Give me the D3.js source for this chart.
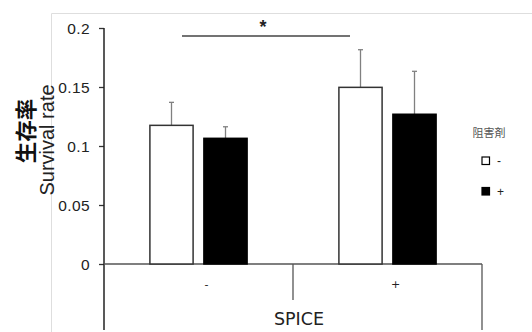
<!DOCTYPE html>
<html>
<head>
<meta charset="utf-8">
<script src="https://cdn.jsdelivr.net/npm/d3@7"></script>
<style>
  body { margin: 0; background: #fff; }
  text { font-family: "Liberation Sans", Arial, sans-serif; }
</style>
</head>
<body>
<script>
const width = 532;
const height = 332;

// data
const spice = ["-", "+"];
const inhibitor = ["-", "+"];
const meanInhMinus = [0.1175, 0.1497];
const meanInhPlus = [0.1065, 0.1269];
const errInhMinus = [0.0195, 0.0319];
const errInhPlus = [0.0098, 0.0364];
const yTicks = [0, 0.05, 0.1, 0.15, 0.2];

const rows = [];
spice.forEach((s, i) => {
  rows.push({ spice: s, inh: "-", mean: meanInhMinus[i], err: errInhMinus[i] });
  rows.push({ spice: s, inh: "+", mean: meanInhPlus[i], err: errInhPlus[i] });
});

const svg = d3.select("body").append("svg")
  .attr("width", width)
  .attr("height", height);

// faint frame of the plot area
svg.append("path")
  .attr("d", "M51.5,332V13.5H532")
  .attr("fill", "none")
  .attr("stroke", "#dedede")
  .attr("stroke-width", 1);

const y = d3.scaleLinear().domain([0, 0.2]).range([264, 28]);
const x = d3.scaleBand().domain(spice).range([104, 482]);
const xSub = d3.scaleBand().domain(inhibitor)
  .range([0, x.bandwidth()])
  .paddingInner(0.2)
  .paddingOuter(0.85);

// y axis
const yAxis = svg.append("g")
  .attr("transform", "translate(104,0)")
  .call(d3.axisLeft(y).tickValues(yTicks).tickSize(5).tickSizeOuter(0)
    .tickFormat(d => d === 0 ? "0" : String(d)));
yAxis.select(".domain").remove();
yAxis.selectAll(".tick line").attr("stroke", "#333").attr("stroke-width", 1.3);
yAxis.selectAll(".tick text")
  .attr("x", -14)
  .attr("dy", "0.36em")
  .attr("fill", "#222")
  .style("font-size", "15.5px")
  .style("letter-spacing", "0.4px")
  .style("font-family", "'Liberation Sans', Arial, sans-serif");

svg.append("line")
  .attr("x1", 104).attr("x2", 104)
  .attr("y1", 28).attr("y2", 330)
  .attr("stroke", "#222").attr("stroke-width", 1.5);

// x axis line and category separators
svg.append("line")
  .attr("x1", 104).attr("x2", 482)
  .attr("y1", y(0)).attr("y2", y(0))
  .attr("stroke", "#555").attr("stroke-width", 1.3);
svg.append("line")
  .attr("x1", x("+")).attr("x2", x("+"))
  .attr("y1", y(0)).attr("y2", 300)
  .attr("stroke", "#555").attr("stroke-width", 1.3);
svg.append("line")
  .attr("x1", 482).attr("x2", 482)
  .attr("y1", y(0)).attr("y2", 330)
  .attr("stroke", "#555").attr("stroke-width", 1.3);

// error bars
const err = svg.append("g").selectAll("g")
  .data(rows)
  .join("g")
  .attr("stroke", "#808080")
  .attr("stroke-width", 1.3);
err.append("line")
  .attr("x1", d => x(d.spice) + xSub(d.inh) + xSub.bandwidth() / 2)
  .attr("x2", d => x(d.spice) + xSub(d.inh) + xSub.bandwidth() / 2)
  .attr("y1", d => y(d.mean))
  .attr("y2", d => y(d.mean + d.err));
err.append("line")
  .attr("x1", d => x(d.spice) + xSub(d.inh) + xSub.bandwidth() / 2 - 2.5)
  .attr("x2", d => x(d.spice) + xSub(d.inh) + xSub.bandwidth() / 2 + 2.5)
  .attr("y1", d => y(d.mean + d.err))
  .attr("y2", d => y(d.mean + d.err));

// bars
svg.append("g").selectAll("rect")
  .data(rows)
  .join("rect")
  .attr("x", d => x(d.spice) + xSub(d.inh))
  .attr("y", d => y(d.mean))
  .attr("width", xSub.bandwidth())
  .attr("height", d => y(0) - y(d.mean))
  .attr("fill", d => d.inh === "-" ? "#fff" : "#000")
  .attr("stroke", d => d.inh === "-" ? "#333" : "#000")
  .attr("stroke-width", 1.5);

// significance bracket
svg.append("line")
  .attr("x1", 182).attr("x2", 350)
  .attr("y1", 36).attr("y2", 36)
  .attr("stroke", "#444").attr("stroke-width", 1.3);
svg.append("text")
  .attr("x", 263).attr("y", 33)
  .attr("text-anchor", "middle")
  .style("font-size", "18px")
  .style("font-weight", "bold")
  .attr("fill", "#222")
  .text("*");

// category labels
svg.append("g").selectAll("text")
  .data(spice)
  .join("text")
  .attr("x", d => x(d) + x.bandwidth() / 2 + 8)
  .attr("y", 288)
  .attr("text-anchor", "middle")
  .style("font-family", "'DejaVu Sans', Verdana, sans-serif")
  .style("font-size", "11px")
  .attr("fill", "#222")
  .text(d => d);

svg.append("text")
  .attr("x", 299).attr("y", 325)
  .attr("text-anchor", "middle")
  .style("font-family", "'DejaVu Sans', Verdana, sans-serif")
  .style("font-size", "17.5px")
  .attr("fill", "#222")
  .text("SPICE");

// y titles
svg.append("text")
  .attr("transform", "translate(24,131) rotate(-90)")
  .attr("text-anchor", "middle")
  .attr("dominant-baseline", "central")
  .style("font-family", "'Noto Sans CJK JP', sans-serif")
  .style("font-weight", "bold")
  .style("font-size", "21.5px")
  .attr("fill", "#111")
  .text("生存率");
svg.append("text")
  .attr("transform", "translate(54,140) rotate(-90)")
  .attr("text-anchor", "middle")
  .style("font-size", "20px")
  .attr("fill", "#222")
  .text("Survival rate");

// legend
const legend = svg.append("g");
legend.append("text")
  .attr("x", 489).attr("y", 132)
  .attr("text-anchor", "middle")
  .attr("dominant-baseline", "central")
  .style("font-family", "'Noto Sans CJK JP', sans-serif")
  .style("font-size", "11px")
  .attr("fill", "#555")
  .text("阻害剤");
const item = legend.selectAll("g.item")
  .data(inhibitor)
  .join("g")
  .attr("class", "item")
  .attr("transform", (d, i) => `translate(482,${157 + i * 30.5})`);
item.append("rect")
  .attr("width", 7.5).attr("height", 7.5)
  .attr("fill", d => d === "-" ? "#fff" : "#000")
  .attr("stroke", "#000")
  .attr("stroke-width", 1.2);
item.append("text")
  .attr("x", 15).attr("y", 4)
  .attr("dominant-baseline", "central")
  .style("font-size", "12px")
  .attr("fill", "#222")
  .text(d => d);
</script>
</body>
</html>
